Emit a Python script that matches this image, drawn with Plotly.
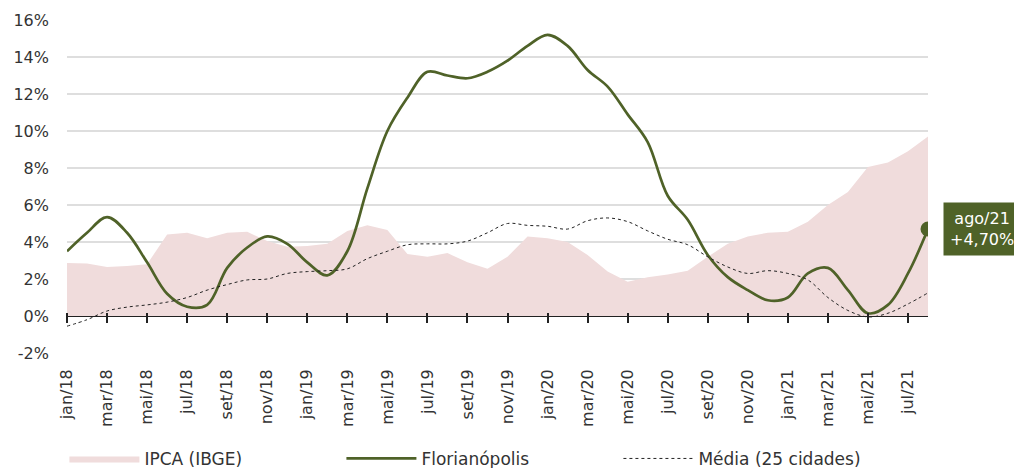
import plotly.graph_objects as go

months = ["jan", "fev", "mar", "abr", "mai", "jun", "jul", "ago", "set", "out", "nov", "dez"]
labels = [f"{m}/{y}" for y in ["18", "19", "20", "21"] for m in months][:44]

ipca = [2.86, 2.84, 2.65, 2.7, 2.8, 4.4, 4.5, 4.2, 4.5, 4.55, 4.05, 3.75,
        3.78, 3.9, 4.6, 4.9, 4.65, 3.35, 3.2, 3.4, 2.9, 2.55, 3.2, 4.3,
        4.2, 4.0, 3.3, 2.4, 1.85, 2.1, 2.25, 2.45, 3.2, 3.9, 4.3, 4.5,
        4.55, 5.1, 6.0, 6.7, 8.05, 8.3, 8.9, 9.7]

floripa = [3.5, 4.5, 5.35, 4.5, 2.9, 1.2, 0.5, 0.6, 2.6, 3.7, 4.3, 3.9,
           2.9, 2.2, 3.5, 6.9, 10.0, 11.8, 13.2, 13.0, 12.85, 13.2, 13.8, 14.6,
           15.2, 14.6, 13.3, 12.4, 10.9, 9.4, 6.5, 5.2, 3.3, 2.1, 1.4, 0.85,
           1.0, 2.3, 2.6, 1.4, 0.15, 0.6, 2.3, 4.70]

media = [-0.55, -0.2, 0.27, 0.48, 0.6, 0.75, 1.0, 1.4, 1.7, 1.95, 2.0, 2.3,
         2.4, 2.45, 2.55, 3.1, 3.5, 3.85, 3.9, 3.9, 4.05, 4.5, 5.0, 4.9,
         4.85, 4.7, 5.15, 5.3, 5.1, 4.6, 4.15, 3.85, 3.2, 2.65, 2.3, 2.45,
         2.3, 1.95, 1.0, 0.3, -0.05, 0.15, 0.65, 1.25]

ytick_vals = [-2, 0, 2, 4, 6, 8, 10, 12, 14, 16]
ytick_text = [f"{v}%" for v in ytick_vals]

GREEN = "#4f6228"
PINK = "#f0dcdc"
FONT = "DejaVu Sans"

fig = go.Figure()
fig.add_trace(go.Scatter(x=labels, y=ipca, name="IPCA (IBGE)", mode="lines",
                         fill="tozeroy", fillcolor=PINK, line=dict(width=0, color=PINK)))
fig.add_trace(go.Scatter(x=labels, y=floripa, name="Florianópolis", mode="lines",
                         line=dict(color=GREEN, width=2.7, shape="spline", smoothing=1)))
fig.add_trace(go.Scatter(x=labels, y=media, name="Média (25 cidades)", mode="lines",
                         line=dict(color="#222222", width=1, dash="dot", shape="spline", smoothing=1)))
fig.add_trace(go.Scatter(x=[labels[-1]], y=[floripa[-1]], mode="markers", showlegend=False,
                         xaxis="x2", marker=dict(color=GREEN, size=15), hoverinfo="skip"))

latest = f"{labels[-1]}<br>+{floripa[-1]:.2f}%".replace(".", ",")
fig.add_annotation(x=labels[-1], y=floripa[-1], text=latest, showarrow=False,
                   xanchor="left", yanchor="middle", xshift=15, align="center",
                   bgcolor=GREEN, borderpad=6, font=dict(color="white", size=16, family=FONT))

fig.update_layout(
    width=1014, height=460,
    margin=dict(l=59, r=94, t=12, b=115, autoexpand=False),
    paper_bgcolor="white", plot_bgcolor="white",
    font=dict(family=FONT, color="#333333"),
    xaxis=dict(type="category", categoryorder="array", categoryarray=labels,
               range=[0, len(labels) - 1], tickmode="array", tickvals=labels[::2],
               tickangle=-90, tickfont=dict(size=16), showgrid=False, ticks="",
               showline=False, zeroline=False, ticklabelstandoff=12),
    xaxis2=dict(type="category", categoryorder="array", categoryarray=labels,
                overlaying="x", anchor="free", position=(0 - ytick_vals[0]) / (ytick_vals[-1] - ytick_vals[0]) + 4 / 333,
                range=[0, len(labels) - 1], tickmode="array", tickvals=labels[::2],
                ticks="outside", ticklen=10, tickwidth=1.5, tickcolor="#222222",
                showticklabels=False, showgrid=False, showline=False, zeroline=False),
    yaxis=dict(range=[ytick_vals[0], ytick_vals[-1]], tickmode="array", tickvals=ytick_vals,
               ticktext=ytick_text, tickfont=dict(size=16), showgrid=True,
               gridcolor="#dedede", gridwidth=1.5, zeroline=True, zerolinecolor="#222222",
               zerolinewidth=1.5, ticks="", ticklabelstandoff=17),
    legend=dict(orientation="h", x=-0.003, xanchor="left", y=-0.318, yanchor="middle",
                font=dict(size=17), entrywidth=192, entrywidthmode="pixels", itemwidth=70,
                bgcolor="rgba(0,0,0,0)"),
    showlegend=True,
)

fig.write_html("out.html")
